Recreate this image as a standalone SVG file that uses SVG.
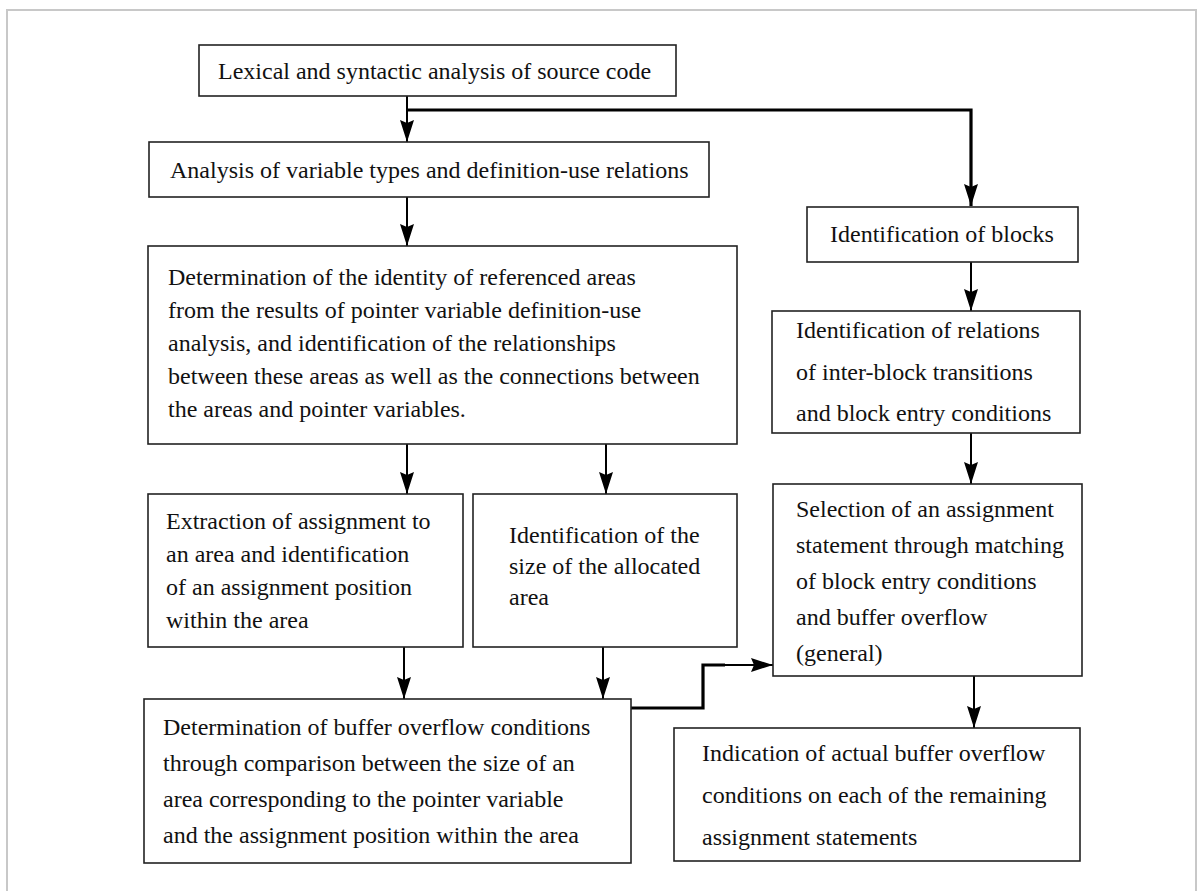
<svg xmlns="http://www.w3.org/2000/svg" width="1204" height="891" viewBox="0 0 1204 891">
<style>
.box{fill:#fff;stroke:#222;stroke-width:1.6}
.t{font-family:"Liberation Serif","Times New Roman",serif;font-size:24px;fill:#111}
.ln{fill:none;stroke:#000;stroke-width:2}
.thick{fill:none;stroke:#000;stroke-width:3.2}
</style>
<defs>
<marker id="ah" markerUnits="userSpaceOnUse" markerWidth="24" markerHeight="16" refX="22" refY="7" orient="auto">
<path d="M0,0 L22,7 L0,14 L3,7 z" fill="#000"/>
</marker>
</defs>
<rect x="0" y="0" width="1204" height="891" fill="#fff"/>
<rect x="7" y="10" width="1189" height="900" fill="none" stroke="#c8c8c8" stroke-width="2"/>
<g id="connectors">
<line class="ln" x1="407" y1="96" x2="407" y2="142" marker-end="url(#ah)"/>
<path class="thick" d="M407,110 H971 V206" marker-end="url(#ah)"/>
<line class="ln" x1="407" y1="197" x2="407" y2="246" marker-end="url(#ah)"/>
<line class="ln" x1="407" y1="444" x2="407" y2="494" marker-end="url(#ah)"/>
<line class="ln" x1="606" y1="444" x2="606" y2="494" marker-end="url(#ah)"/>
<line class="ln" x1="404" y1="647" x2="404" y2="699" marker-end="url(#ah)"/>
<line class="ln" x1="603" y1="647" x2="603" y2="699" marker-end="url(#ah)"/>
<line class="ln" x1="971" y1="262" x2="971" y2="311" marker-end="url(#ah)"/>
<line class="ln" x1="971" y1="433" x2="971" y2="484" marker-end="url(#ah)"/>
<line class="ln" x1="974" y1="676" x2="974" y2="728" marker-end="url(#ah)"/>
<path class="thick" d="M631,708 H703 V665 H725"/>
<line class="ln" x1="723" y1="665" x2="773" y2="665" marker-end="url(#ah)"/>
</g>
<g id="n1">
<rect class="box" x="199" y="45" width="477" height="51"/>
<text class="t" x="218" y="79">Lexical and syntactic analysis of source code</text>
</g>
<g id="n2">
<rect class="box" x="149" y="142" width="560" height="55"/>
<text class="t" x="170" y="178">Analysis of variable types and definition-use relations</text>
</g>
<g id="n3">
<rect class="box" x="148" y="246" width="589" height="198"/>
<text class="t" x="168" y="285">Determination of the identity of referenced areas</text>
<text class="t" x="168" y="318">from the results of pointer variable definition-use</text>
<text class="t" x="168" y="351">analysis, and identification of the relationships</text>
<text class="t" x="168" y="384">between these areas as well as the connections between</text>
<text class="t" x="168" y="417">the areas and pointer variables.</text>
</g>
<g id="n4">
<rect class="box" x="148" y="494" width="315" height="153"/>
<text class="t" x="166" y="529">Extraction of assignment to</text>
<text class="t" x="166" y="562">an area and identification</text>
<text class="t" x="166" y="595">of an assignment position</text>
<text class="t" x="166" y="628">within the area</text>
</g>
<g id="n5">
<rect class="box" x="473" y="494" width="264" height="153"/>
<text class="t" x="509" y="543">Identification of the</text>
<text class="t" x="509" y="574">size of the allocated</text>
<text class="t" x="509" y="605">area</text>
</g>
<g id="n6">
<rect class="box" x="144" y="699" width="487" height="164"/>
<text class="t" x="163" y="735">Determination of buffer overflow conditions</text>
<text class="t" x="163" y="771">through comparison between the size of an</text>
<text class="t" x="163" y="807">area corresponding to the pointer variable</text>
<text class="t" x="163" y="843">and the assignment position within the area</text>
</g>
<g id="n7">
<rect class="box" x="807" y="207" width="271" height="55"/>
<text class="t" x="830" y="242">Identification of blocks</text>
</g>
<g id="n8">
<rect class="box" x="772" y="311" width="308" height="122"/>
<text class="t" x="796" y="338">Identification of relations</text>
<text class="t" x="796" y="380">of inter-block transitions</text>
<text class="t" x="796" y="421">and block entry conditions</text>
</g>
<g id="n9">
<rect class="box" x="773" y="484" width="309" height="192"/>
<text class="t" x="796" y="517">Selection of an assignment</text>
<text class="t" x="796" y="553">statement through matching</text>
<text class="t" x="796" y="589">of block entry conditions</text>
<text class="t" x="796" y="625">and buffer overflow</text>
<text class="t" x="796" y="661">(general)</text>
</g>
<g id="n10">
<rect class="box" x="674" y="728" width="406" height="133"/>
<text class="t" x="702" y="761">Indication of actual buffer overflow</text>
<text class="t" x="702" y="803">conditions on each of the remaining</text>
<text class="t" x="702" y="845">assignment statements</text>
</g>
</svg>
